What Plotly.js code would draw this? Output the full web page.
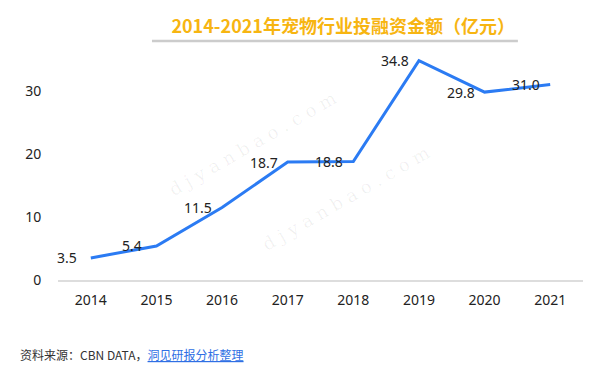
<!DOCTYPE html>
<html>
<head>
<meta charset="utf-8">
<script src="https://cdn.plot.ly/plotly-3.0.1.min.js"></script>
<style>html,body{margin:0;padding:0;background:#fff;}#chart{width:600px;height:373px;}</style>
</head>
<body>
<div id="chart"></div>
<script>
const years = ['2014','2015','2016','2017','2018','2019','2020','2021'];
const amounts = [3.5, 5.4, 11.5, 18.7, 18.8, 34.8, 29.8, 31.0];
const valueLabels = ['3.5','5.4','11.5','18.7','18.8','34.8','29.8','31.0'];
const yTicks = [0, 10, 20, 30];
const titleText = '2014-2021年宠物行业投融资金额（亿元）';
const sourcePrefix = '资料来源：CBN DATA，';
const sourceLink = '洞见研报分析整理';
const watermark = 'd j y a n b a o . c o m';

const FONT = '"Noto Sans", "Noto Sans CJK SC", sans-serif';
const CJK = '"Noto Sans CJK SC", "Noto Sans", sans-serif';

const trace = {
  x: years, y: amounts, type: 'scatter', mode: 'lines',
  line: {color: '#2B7BF3', width: 3}, hoverinfo: 'skip'
};

const annotations = [];

[[0.547, 0.361], [0.20, 0.60]].forEach(p => {
  annotations.push({
    xref: 'paper', yref: 'paper', x: p[0], y: p[1], showarrow: false,
    text: watermark, textangle: -30,
    font: {family: 'DejaVu Serif, serif', size: 18, color: 'rgba(0,0,0,0.06)'}
  });
});

years.forEach((yr, i) => {
  annotations.push({
    x: i, y: amounts[i], xref: 'x', yref: 'y', text: valueLabels[i],
    showarrow: false, xanchor: 'center', yanchor: 'middle', xshift: -24,
    font: {family: FONT, size: 14, color: '#222'}
  });
});

annotations.push({
  xref: 'paper', yref: 'paper', x: -0.076, y: -0.33, xanchor: 'left', yanchor: 'middle',
  showarrow: false,
  text: sourcePrefix + '<span style="color:#2F6FE4;text-decoration:underline">' + sourceLink + '</span>',
  font: {family: CJK, size: 12, color: '#333'}
});

const layout = {
  width: 600, height: 373,
  margin: {l: 58, r: 17, t: 53, b: 93},
  paper_bgcolor: '#fff', plot_bgcolor: '#fff',
  showlegend: false,
  title: {
    text: '<b>' + titleText + '</b>', x: 0.572, xanchor: 'center', y: 0.928, yanchor: 'middle',
    font: {family: CJK, size: 18, color: '#F7B511'}
  },
  xaxis: {
    type: 'category', range: [-0.5, 7.5], showgrid: false, zeroline: false,
    showline: true, linecolor: '#DDDDDD', linewidth: 1.5,
    ticks: 'outside', ticklen: 7, tickcolor: 'rgba(0,0,0,0)',
    tickfont: {family: FONT, size: 14, color: '#222'}
  },
  yaxis: {
    range: [0, 36], tickvals: yTicks, showgrid: false, zeroline: false, showline: false,
    ticks: 'outside', ticklen: 13, tickcolor: 'rgba(0,0,0,0)',
    tickfont: {family: FONT, size: 14, color: '#222'}
  },
  shapes: [{
    type: 'line', xref: 'paper', yref: 'paper',
    x0: 0.179, x1: 0.876, y0: 1.053, y1: 1.053,
    line: {color: '#CCCCCC', width: 2.5}
  }],
  annotations: annotations
};

Plotly.newPlot('chart', [trace], layout, {staticPlot: true, displayModeBar: false});
</script>
</body>
</html>
